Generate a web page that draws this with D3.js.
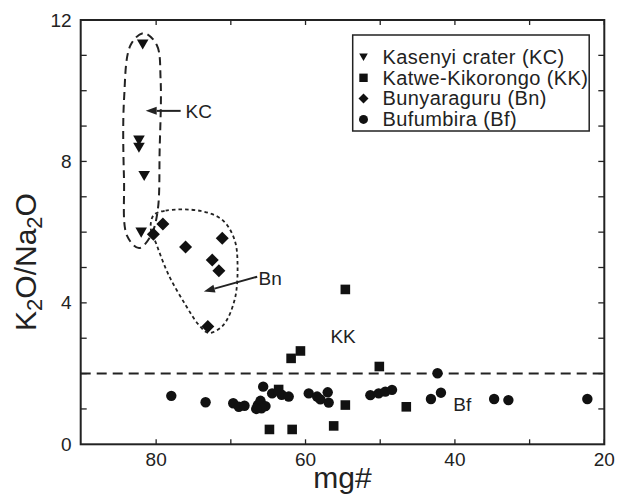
<!DOCTYPE html>
<html><head><meta charset="utf-8">
<script src="https://cdn.jsdelivr.net/npm/d3@7"></script>
<style>body{margin:0;background:#fff}</style>
</head><body><svg id="c" width="618" height="498"></svg>
<script>
// ---- data ----
const xTicks=[80,60,40,20];
const yTicks=[0,4,8,12];
const kcMg=[81.8,82.3,82.3,81.6,82.0];
const kcK=[11.32,8.6,8.4,7.6,6.0];
const kkMg=[54.67,60.68,61.93,50.12,64.83,61.79,56.23,54.67,46.51,63.6];
const kkK=[4.38,2.64,2.43,2.20,0.42,0.42,0.52,1.11,1.06,1.55];
const bnMg=[80.37,79.1,76.06,71.15,72.49,71.6,73.08];
const bnK=[5.94,6.23,5.58,5.83,5.21,4.91,3.33];
const bfMg=[77.97,73.38,69.68,68.93,68.17,66.39,66.03,65.67,65.36,64.47,63.2,62.25,59.57,58.45,58.01,57.03,56.9,51.32,50.21,49.32,48.42,43.21,42.33,41.87,34.75,32.84,22.27,65.9,66.6];
const bfK=[1.37,1.19,1.16,1.06,1.09,1.11,1.23,1.63,1.08,1.44,1.40,1.35,1.44,1.35,1.27,1.47,1.18,1.39,1.44,1.49,1.54,1.28,2.01,1.46,1.28,1.25,1.28,1.02,1.0];
const legendLabels=["Kasenyi crater (KC)","Katwe-Kikorongo (KK)","Bunyaraguru (Bn)","Bufumbira (Bf)"];
const refLineK=2.0;
// enclosure outlines (data units)
const kcLoopMg=[81.67,79.93,79.4,79.53,79.8,80.7,82.3,83.9,84.3,84.3,83.4];
const kcLoopK=[11.63,11.3,10.3,8.33,6.6,5.9,5.55,5.9,7.48,9.74,11.3];
const bnLoopMg=[80.33,78.73,74.05,71.1,69.5,69.1,69.5,71.1,72.98,74.3,76.06,78.33,79.93,80.73];
const bnLoopK=[6.48,6.61,6.60,6.34,5.78,5.07,4.08,3.35,3.15,3.38,3.94,4.79,5.64,6.12];

const svg=d3.select("#c");
const font="Liberation Sans, Arial, Helvetica, sans-serif";
const x=d3.scaleLinear().domain([90.1,20]).range([80.7,604.3]);
const y=d3.scaleLinear().domain([0,12]).range([444.3,20]);

// frame
svg.append("rect").attr("x",x(90.1)).attr("y",y(12)).attr("width",x(20)-x(90.1)).attr("height",y(0)-y(12))
  .attr("fill","none").attr("stroke","#222").attr("stroke-width",2);

// ticks inward
const minorX=d3.range(80,19,-10), minorY=d3.range(1,12,1);
const tg=svg.append("g").attr("stroke","#222").attr("stroke-width",1.3);
minorX.forEach(v=>{
  tg.append("line").attr("x1",x(v)).attr("x2",x(v)).attr("y1",y(0)).attr("y2",y(0)-5);
  tg.append("line").attr("x1",x(v)).attr("x2",x(v)).attr("y1",y(12)).attr("y2",y(12)+5);
});
minorY.forEach(v=>{
  tg.append("line").attr("x1",x(90.1)).attr("x2",x(90.1)+6).attr("y1",y(v)).attr("y2",y(v));
  tg.append("line").attr("x1",x(20)).attr("x2",x(20)-6).attr("y1",y(v)).attr("y2",y(v));
});
// tick labels
xTicks.forEach(v=>svg.append("text").attr("x",x(v)).attr("y",y(0)+22).attr("text-anchor","middle")
  .attr("font-family",font).attr("font-size",19).attr("fill","#222").text(v));
yTicks.forEach(v=>svg.append("text").attr("x",x(90.1)-9).attr("y",y(v)+6.5).attr("text-anchor","end")
  .attr("font-family",font).attr("font-size",19).attr("fill","#222").text(v));
// axis titles
svg.append("text").attr("x",(x(90.1)+x(20))/2).attr("y",488).attr("text-anchor","middle")
  .attr("font-family",font).attr("font-size",30).attr("fill","#222").text("mg#");
const yt=svg.append("text").attr("transform","translate(36,262) rotate(-90)").attr("text-anchor","middle")
  .attr("font-family",font).attr("font-size",30).attr("fill","#222");
yt.append("tspan").text("K");
yt.append("tspan").attr("font-size",22).attr("dy",6).text("2");
yt.append("tspan").attr("dy",-6).text("O/Na");
yt.append("tspan").attr("font-size",22).attr("dy",6).text("2");
yt.append("tspan").attr("dy",-6).text("O");

// reference line
svg.append("line").attr("x1",x(90.1)).attr("x2",x(20)).attr("y1",y(refLineK)).attr("y2",y(refLineK))
  .attr("stroke","#222").attr("stroke-width",2).attr("stroke-dasharray","10,6");

// loops
const loopLine=d3.line().x(d=>x(d[0])).y(d=>y(d[1])).curve(d3.curveCatmullRomClosed);
svg.append("path").attr("d",loopLine(d3.zip(kcLoopMg,kcLoopK))).attr("fill","none")
  .attr("stroke","#222").attr("stroke-width",2).attr("stroke-dasharray","8,5");
svg.append("path").attr("d",loopLine(d3.zip(bnLoopMg,bnLoopK))).attr("fill","none")
  .attr("stroke","#222").attr("stroke-width",1.8).attr("stroke-dasharray","3.5,3");

// markers
function tri(cx,cy,s){return `M${cx-s},${cy-s*0.8}L${cx+s},${cy-s*0.8}L${cx},${cy+s*0.95}Z`;}
function sq(cx,cy,s){return `M${cx-s},${cy-s}h${2*s}v${2*s}h${-2*s}Z`;}
function dia(cx,cy,s){return `M${cx},${cy-s}L${cx+s},${cy}L${cx},${cy+s}L${cx-s},${cy}Z`;}
const mg=svg.append("g").attr("fill","#111");
mg.selectAll(".bf").data(d3.zip(bfMg,bfK)).join("circle").attr("cx",d=>x(d[0])).attr("cy",d=>y(d[1])).attr("r",5.2);
mg.selectAll(".kk").data(d3.zip(kkMg,kkK)).join("path").attr("d",d=>sq(x(d[0]),y(d[1]),4.8));
mg.selectAll(".bn").data(d3.zip(bnMg,bnK)).join("path").attr("d",d=>dia(x(d[0]),y(d[1]),6.5));
mg.selectAll(".kc").data(d3.zip(kcMg,kcK)).join("path").attr("d",d=>tri(x(d[0]),y(d[1]),5.8));

// annotations
const ann=[["KC",76.06,9.23],["Bn",66.3,4.5],["KK",56.67,2.87],["Bf",40.22,0.94]];
ann.forEach(a=>svg.append("text").attr("x",x(a[1])).attr("y",y(a[2])).attr("font-family",font)
  .attr("font-size",19).attr("fill","#222").text(a[0]));
function arrow(x1,y1,x2,y2){
  const X1=x(x1),Y1=y(y1),X2=x(x2),Y2=y(y2);
  const ang=Math.atan2(Y2-Y1,X2-X1),L=11,W=4;
  const bx=X2-L*Math.cos(ang),by=Y2-L*Math.sin(ang);
  svg.append("line").attr("x1",X1).attr("y1",Y1).attr("x2",bx).attr("y2",by).attr("stroke","#222").attr("stroke-width",2);
  svg.append("path").attr("fill","#222").attr("d",`M${X2},${Y2}L${bx-W*Math.sin(ang)},${by+W*Math.cos(ang)}L${bx+W*Math.sin(ang)},${by-W*Math.cos(ang)}Z`);
}
arrow(76.72,9.43,81.4,9.43);
arrow(66.47,4.74,73.61,4.32);

// legend
const lg=svg.append("g");
lg.append("rect").attr("x",352.7).attr("y",35).attr("width",236.5).attr("height",96)
  .attr("fill","#fff").attr("stroke","#222").attr("stroke-width",1.5);
const shapes=[(cx,cy)=>tri(cx,cy,4.3),(cx,cy)=>sq(cx,cy,4.2),(cx,cy)=>dia(cx,cy,5)];
legendLabels.forEach((t,i)=>{
  const cy=57+i*20.8;
  if(i<3) lg.append("path").attr("d",shapes[i](363.5,cy)).attr("fill","#111");
  else lg.append("circle").attr("cx",363.5).attr("cy",cy).attr("r",4.5).attr("fill","#111");
  lg.append("text").attr("x",382.5).attr("y",cy+6.8).attr("font-family",font).attr("font-size",20)
    .attr("letter-spacing",0.4).attr("fill","#222").text(t);
});
</script></body></html>
